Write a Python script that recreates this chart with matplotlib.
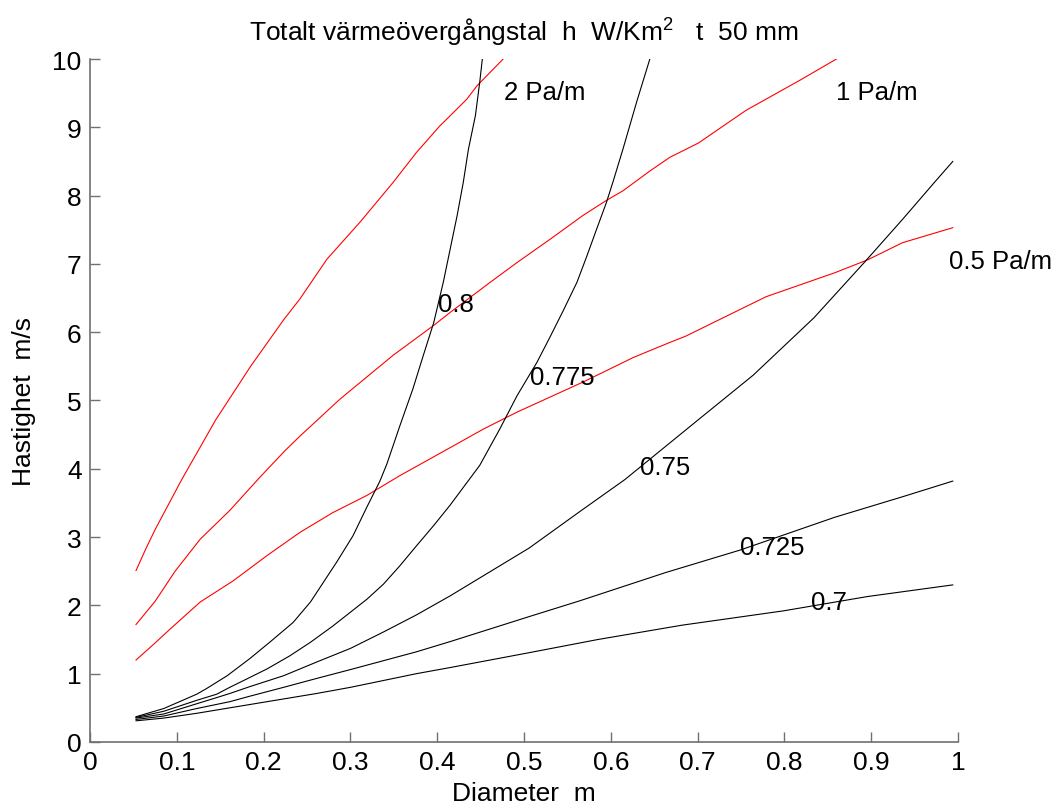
import numpy as np
import matplotlib
matplotlib.use('Agg')
import matplotlib.pyplot as plt

plt.rcParams['font.family'] = ['Liberation Sans', 'DejaVu Sans']
plt.rcParams['mathtext.fontset'] = 'custom'
plt.rcParams['mathtext.rm'] = 'Liberation Sans'

# red curves: constant pressure drop
p2_x = [0.053, 0.064, 0.075, 0.106, 0.145, 0.185, 0.223, 0.242, 0.273, 0.311, 0.349,
        0.376, 0.403, 0.415, 0.434, 0.446, 0.476]
p2_y = [2.51, 2.82, 3.11, 3.85, 4.72, 5.50, 6.18, 6.49, 7.07, 7.61, 8.19,
        8.63, 9.02, 9.17, 9.41, 9.61, 10.0]

p1_x = [0.053, 0.075, 0.098, 0.127, 0.161, 0.196, 0.225, 0.242, 0.288, 0.349, 0.396,
        0.415, 0.461, 0.492, 0.530, 0.568, 0.595, 0.614, 0.645, 0.668, 0.701,
        0.756, 0.818, 0.860]
p1_y = [1.72, 2.06, 2.50, 2.97, 3.39, 3.88, 4.27, 4.48, 5.02, 5.66, 6.10,
        6.29, 6.73, 7.02, 7.36, 7.71, 7.93, 8.07, 8.36, 8.56, 8.77,
        9.25, 9.69, 10.0]

p05_x = [0.053, 0.075, 0.092, 0.127, 0.165, 0.204, 0.242, 0.280, 0.319, 0.357, 0.415,
         0.453, 0.492, 0.530, 0.568, 0.626, 0.668, 0.686, 0.779, 0.858, 0.896,
         0.936, 0.994]
p05_y = [1.20, 1.45, 1.65, 2.05, 2.36, 2.73, 3.07, 3.36, 3.61, 3.90, 4.31,
         4.58, 4.83, 5.05, 5.27, 5.63, 5.85, 5.94, 6.52, 6.87, 7.06,
         7.31, 7.53]

# black curves: heat transfer coefficient levels
h080_x = [0.053, 0.085, 0.123, 0.134, 0.158, 0.184, 0.207, 0.234, 0.254, 0.269, 0.284,
          0.303, 0.319, 0.334, 0.342, 0.357, 0.372, 0.384, 0.396, 0.407, 0.415,
          0.423, 0.430, 0.436, 0.444, 0.449, 0.452]
h080_y = [0.37, 0.49, 0.70, 0.78, 0.97, 1.22, 1.46, 1.75, 2.05, 2.34, 2.63,
          3.02, 3.44, 3.82, 4.07, 4.63, 5.17, 5.66, 6.14, 6.73, 7.22,
          7.71, 8.19, 8.68, 9.17, 9.66, 10.0]

h0775_x = [0.053, 0.085, 0.123, 0.146, 0.161, 0.177, 0.204, 0.230, 0.254, 0.280, 0.300,
           0.319, 0.338, 0.357, 0.376, 0.396, 0.415, 0.449, 0.472, 0.492, 0.515,
           0.530, 0.545, 0.561, 0.572, 0.584, 0.595, 0.603, 0.614, 0.630, 0.645]
h0775_y = [0.36, 0.45, 0.61, 0.70, 0.80, 0.90, 1.07, 1.26, 1.46, 1.70, 1.90,
           2.09, 2.31, 2.58, 2.87, 3.17, 3.47, 4.05, 4.58, 5.07, 5.56,
           5.93, 6.31, 6.73, 7.10, 7.52, 7.90, 8.22, 8.68, 9.38, 10.0]

h075_x = [0.053, 0.085, 0.123, 0.146, 0.161, 0.184, 0.223, 0.261, 0.300, 0.338, 0.376,
          0.415, 0.506, 0.565, 0.616, 0.701, 0.764, 0.834, 0.892, 0.936, 0.974, 0.994]
h075_y = [0.35, 0.41, 0.56, 0.65, 0.71, 0.81, 0.97, 1.17, 1.37, 1.61, 1.86,
          2.14, 2.84, 3.38, 3.84, 4.72, 5.37, 6.21, 7.02, 7.65, 8.21, 8.50]

h0725_x = [0.053, 0.085, 0.123, 0.161, 0.184, 0.223, 0.261, 0.300, 0.338, 0.376, 0.415,
           0.507, 0.565, 0.663, 0.749, 0.858, 0.936, 0.994]
h0725_y = [0.33, 0.38, 0.49, 0.59, 0.67, 0.80, 0.93, 1.06, 1.19, 1.32, 1.47,
           1.84, 2.07, 2.48, 2.81, 3.29, 3.59, 3.82]

h070_x = [0.053, 0.085, 0.123, 0.161, 0.223, 0.261, 0.300, 0.338, 0.376, 0.415, 0.507,
          0.585, 0.682, 0.799, 0.896, 0.994]
h070_y = [0.31, 0.35, 0.42, 0.50, 0.63, 0.71, 0.80, 0.90, 1.00, 1.09, 1.31,
          1.50, 1.71, 1.92, 2.13, 2.30]

red_curves = [(p2_x, p2_y), (p1_x, p1_y), (p05_x, p05_y)]
red_labels = ['2 Pa/m', '1 Pa/m', '0.5 Pa/m']
red_label_pos = [(0.477, 9.52), (0.859, 9.52), (0.990, 7.04)]

black_curves = [(h080_x, h080_y), (h0775_x, h0775_y), (h075_x, h075_y),
                (h0725_x, h0725_y), (h070_x, h070_y)]
black_labels = ['0.8', '0.775', '0.75', '0.725', '0.7']
black_label_pos = [(0.422, 6.41), (0.544, 5.34), (0.663, 4.03), (0.786, 2.85), (0.851, 2.05)]

fig = plt.figure(figsize=(10.59, 8.12), dpi=100)
ax = fig.add_axes([0.085, 0.085, 0.8196, 0.8411])

for (x, y) in red_curves:
    ax.plot(x, y, color='red', lw=0.8)
for (x, y) in black_curves:
    ax.plot(x, y, color='black', lw=0.8)

for lab, (tx, ty) in zip(black_labels, black_label_pos):
    ax.text(tx, ty, lab, fontsize=18.5, ha='center', va='center')
for lab, (tx, ty) in zip(red_labels, red_label_pos):
    ax.text(tx, ty, lab, fontsize=18.5, ha='left', va='center', clip_on=False)

ax.set_xlim(0, 1)
ax.set_ylim(0, 10)
ax.set_xticks(np.arange(0, 1.01, 0.1))
ax.set_xticklabels(['0', '0.1', '0.2', '0.3', '0.4', '0.5', '0.6', '0.7', '0.8', '0.9', '1'])
ax.set_yticks(np.arange(0, 11, 1))

for s in ['top', 'right']:
    ax.spines[s].set_visible(False)
for s in ['left', 'bottom']:
    ax.spines[s].set_color('#707070')
    ax.spines[s].set_linewidth(1.2)
ax.tick_params(direction='in', length=7, width=1, color='#707070', labelsize=19, pad=6)

ax.set_xlabel('Diameter  m', fontsize=19, labelpad=5)
ax.set_ylabel('Hastighet  m/s', fontsize=19, labelpad=12)
ax.set_title(r'Totalt värmeövergångstal  h  W/Km$^{\mathrm{2}}$   t  50 mm', fontsize=19, pad=14)

fig.savefig('out.png', dpi=100)
